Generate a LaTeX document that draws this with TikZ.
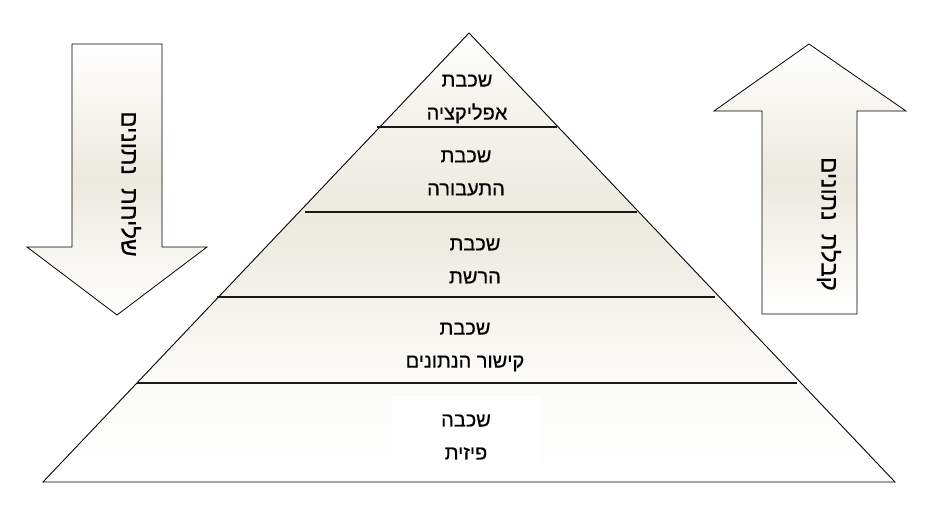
\documentclass[tikz,border=0pt]{standalone}
\usepackage{fontspec}
\newfontfamily\hebfont[Script=Hebrew,FakeBold=0.5]{Liberation Sans}
\TeXXeTstate=1
\usepackage{tikz}
\definecolor{parchment}{RGB}{236,233,222}
% white at both ends, parchment a little above the middle
\pgfdeclareverticalshading{paper}{100bp}{color(0bp)=(white); color(25bp)=(white); color(37bp)=(parchment!22); color(54bp)=(parchment); color(68bp)=(parchment!50); color(75bp)=(white); color(100bp)=(white)}

\newcommand{\heb}[1]{\beginR #1\endR}

\begin{document}
\begin{tikzpicture}[x=1pt,y=-1pt,
                    slab/.style={line width=0.9,black,shading=paper,line join=miter},
                    divider/.style={line width=1.4,black!90},
                    bigarrow/.style={line width=0.8,black,top color=white,bottom color=white,middle color=parchment,line join=miter},
                    layertext/.style={font=\hebfont\fontsize{20}{33}\selectfont,align=center,inner sep=0},
                    flowtext/.style={font=\hebfont\fontsize{24}{28}\selectfont,rotate=-90,inner sep=0}
                    ]
    \useasboundingbox (0,0) rectangle (940,506);

    % pyramid
    \coordinate (apex)  at (469,33);
    \coordinate (baseL) at (43,482);
    \coordinate (baseR) at (895,482);
    \shadedraw[slab] (baseL) -- (apex) -- (baseR) -- cycle;
    \fill[white] (392,396) rectangle (540,470);

    % layer borders: y/left/right
    \foreach \y/\l/\r in {127/377/557, 212/305/637, 297/217/715, 383/137/797} {
        \draw[divider] (\l,\y) -- (\r,\y);
    }

    \node[layertext] (app)  at (467,99)  {\heb{שכבת}\\\heb{אפליקציה}};
    \node[layertext] (tran) at (466,173) {\heb{שכבת}\\\heb{התעבורה}};
    \node[layertext] (net)  at (475,261) {\heb{שכבת}\\\heb{הרשת}};
    \node[layertext] (link) at (465,347) {\heb{שכבת}\\\heb{קישור הנתונים}};
    \node[layertext] (phys) at (466,437) {\heb{שכבה}\\\heb{פיזית}};

    % sending arrow (down)
    \draw[bigarrow] (72,44) -- (162,44) -- (162,247) -- (207,247) -- (117,315) -- (27,247) -- (72,247) -- cycle;
    \node[flowtext] (send) at (131,184) {\heb{שליחת\ \ נתונים}};

    % receiving arrow (up)
    \draw[bigarrow] (809,44) -- (906,111) -- (857,111) -- (857,314) -- (762,314) -- (762,111) -- (714,111) -- cycle;
    \node[flowtext] (recv) at (829,224) {\heb{קבלת\ \ נתונים}};
\end{tikzpicture}
\end{document}
